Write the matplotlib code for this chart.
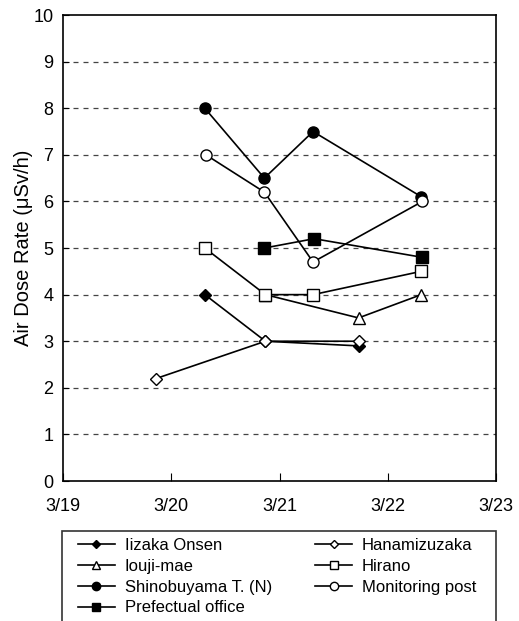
import matplotlib.pyplot as plt
from matplotlib.patches import Rectangle

plt.rcParams['font.family'] = ['Liberation Sans', 'DejaVu Sans']

# x = day in March (3/19 .. 3/23)
iizaka_x = [20.31, 20.87, 21.73]
iizaka_y = [4.0, 3.0, 2.9]
iouji_x = [20.87, 21.73, 22.31]
iouji_y = [4.0, 3.5, 4.0]
shino_x = [20.31, 20.86, 21.31, 22.31]
shino_y = [8.0, 6.5, 7.5, 6.1]
pref_x = [20.86, 21.32, 22.32]
pref_y = [5.0, 5.2, 4.8]
hana_x = [19.86, 20.87, 21.73]
hana_y = [2.2, 3.0, 3.0]
hirano_x = [20.31, 20.87, 21.31, 22.31]
hirano_y = [5.0, 4.0, 4.0, 4.5]
mon_x = [20.32, 20.86, 21.31, 22.32]
mon_y = [7.0, 6.2, 4.7, 6.0]

xticks = [19, 20, 21, 22, 23]
xticklabels = ['3/19', '3/20', '3/21', '3/22', '3/23']

fig = plt.figure(figsize=(5.19, 6.21), dpi=100)
ax = fig.add_axes([0.1214, 0.2254, 0.8343, 0.7504])

for y in range(1, 10):
    ax.axhline(y, color='#444444', lw=0.9, ls=(0, (4, 4)), zorder=1)

kw = dict(color='black', lw=1.2, ms=8, mec='black', zorder=3)
l1, = ax.plot(iizaka_x, iizaka_y, marker='D', mfc='black', label='Iizaka Onsen', **{**kw, 'ms': 6})
l2, = ax.plot(iouji_x, iouji_y, marker='^', mfc='white', label='Iouji-mae', **kw)
l3, = ax.plot(shino_x, shino_y, marker='o', mfc='black', label='Shinobuyama T. (N)', **kw)
l4, = ax.plot(pref_x, pref_y, marker='s', mfc='black', label='Prefectual office', **kw)
l5, = ax.plot(hana_x, hana_y, marker='D', mfc='white', label='Hanamizuzaka', **{**kw, 'ms': 6})
l6, = ax.plot(hirano_x, hirano_y, marker='s', mfc='white', label='Hirano', **kw)
l7, = ax.plot(mon_x, mon_y, marker='o', mfc='white', label='Monitoring post', **kw)

ax.set_xlim(19, 23)
ax.set_ylim(0, 10)
ax.set_xticks(xticks)
ax.set_xticklabels(xticklabels)
ax.set_yticks(range(0, 11))
ax.tick_params(axis='x', direction='in', length=6, labelsize=13, pad=12)
ax.tick_params(axis='y', direction='in', length=4, labelsize=13, pad=7)
for s in ax.spines.values():
    s.set_linewidth(1.2)
ax.set_ylabel('Air Dose Rate (\u03bcSv/h)', fontsize=14.5)
ax.yaxis.set_label_coords(-0.07, 0.5)

# legend box
fig.patches.append(Rectangle((62 / 519, -0.01), (496 - 62) / 519, (621 - 531) / 621 + 0.01,
                             transform=fig.transFigure, fill=False, lw=1.2, ec='#333333'))
fig.legend(handles=[l1, l2, l3, l4, l5, l6, l7], ncol=2, loc='upper left',
           bbox_to_anchor=(78 / 519, 1 - 538 / 621), frameon=False, fontsize=12,
           markerscale=0.75, handlelength=2.2, labelspacing=0.35, borderpad=0,
           borderaxespad=0, columnspacing=2.6, handletextpad=0.6)

fig.savefig('out.png', dpi=100)
